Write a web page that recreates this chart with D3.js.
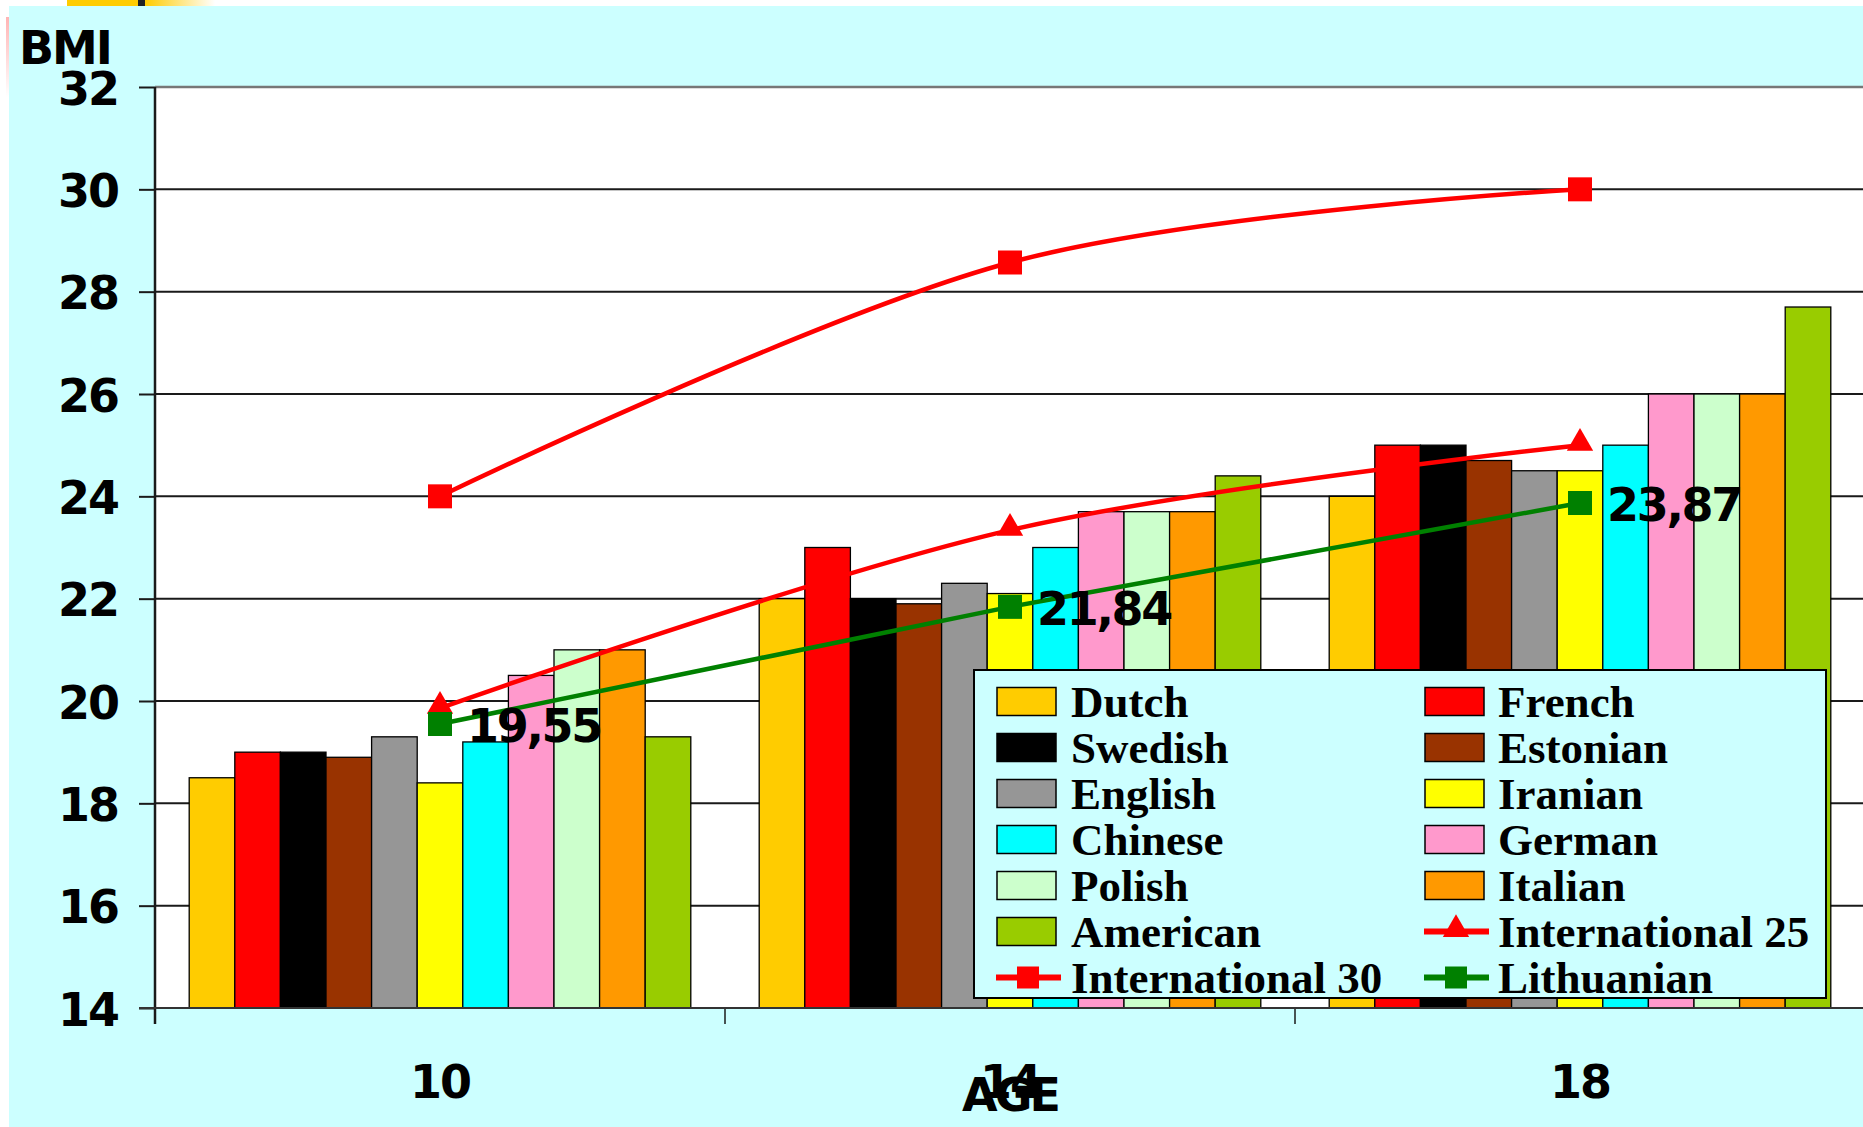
<!DOCTYPE html>
<html>
<head>
<meta charset="utf-8">
<title>BMI by age</title>
<script src="https://cdn.jsdelivr.net/npm/d3@7"></script>
<style>
  html, body { margin: 0; padding: 0; background: #ffffff; }
  svg { display: block; }
  .num { font-family: "DejaVu Sans", Verdana, sans-serif; font-weight: bold; fill: #000; }
  .leg { font-family: "Liberation Serif", "Times New Roman", serif; font-weight: bold; fill: #000; }
</style>
</head>
<body>
<svg id="chart" width="1863" height="1127"></svg>
<script>
// Age groups on the category axis
const ages = ["10", "14", "18"];

// Mean BMI by national reference, one value per age group
const dutch    = [18.5, 22.0, 24.0];
const french   = [19.0, 23.0, 25.0];
const swedish  = [19.0, 22.0, 25.0];
const estonian = [18.9, 21.9, 24.7];
const english  = [19.3, 22.3, 24.5];
const iranian  = [18.4, 22.1, 24.5];
const chinese  = [19.2, 23.0, 25.0];
const german   = [20.5, 23.7, 26.0];
const polish   = [21.0, 23.7, 26.0];
const italian  = [21.0, 23.7, 26.0];
const american = [19.3, 24.4, 27.7];

// Line series
const international25 = [19.86, 23.34, 25.0];
const international30 = [24.0, 28.57, 30.0];
const lithuanian      = [19.55, 21.84, 23.87];

// Axis ticks
const yTicks = [14, 16, 18, 20, 22, 24, 26, 28, 30, 32];

const barNames = ["Dutch", "French", "Swedish", "Estonian", "English", "Iranian",
                  "Chinese", "German", "Polish", "Italian", "American"];
const barValues = [dutch, french, swedish, estonian, english, iranian,
                   chinese, german, polish, italian, american];
const barFill = ["#FFCC00", "#FF0000", "#000000", "#993300", "#969696", "#FFFF00",
                 "#00FFFF", "#FF99CC", "#CCFFCC", "#FF9900", "#99CC00"];

const lineSeries = [
  { name: "International 25", values: international25, color: "#FF0000", marker: "triangle", smooth: true,  labels: false },
  { name: "International 30", values: international30, color: "#FF0000", marker: "square",   smooth: true,  labels: false },
  { name: "Lithuanian",       values: lithuanian,      color: "#008000", marker: "square",   smooth: false, labels: true }
];

const svg = d3.select("#chart");
const W = 1863, H = 1127;

// Slide frame
const defs = svg.append("defs");
const g1 = defs.append("linearGradient").attr("id", "topFade").attr("x1", 0).attr("x2", 1).attr("y1", 0).attr("y2", 0);
g1.append("stop").attr("offset", 0).attr("stop-color", "#FFCC00");
g1.append("stop").attr("offset", 1).attr("stop-color", "#FFFFFF");
const g2 = defs.append("linearGradient").attr("id", "sideFade").attr("x1", 0).attr("x2", 0).attr("y1", 0).attr("y2", 1);
g2.append("stop").attr("offset", 0).attr("stop-color", "#FFB4B4");
g2.append("stop").attr("offset", 1).attr("stop-color", "#FFFFFF");

svg.append("rect").attr("x", 67).attr("y", 0).attr("width", 71).attr("height", 6).attr("fill", "#FFCC00");
svg.append("rect").attr("x", 138).attr("y", 0).attr("width", 7).attr("height", 6).attr("fill", "#222");
svg.append("rect").attr("x", 145).attr("y", 0).attr("width", 70).attr("height", 6).attr("fill", "url(#topFade)");
svg.append("rect").attr("x", 6).attr("y", 17).attr("width", 3).attr("height", 80).attr("fill", "url(#sideFade)");
svg.append("rect").attr("x", 9).attr("y", 6).attr("width", W - 9).attr("height", H - 6).attr("fill", "#CCFFFF");

// Scales
const plotLeft = 155, plotRight = 1865, plotTop = 87, plotBottom = 1008;
const x = d3.scaleBand().domain(ages).range([plotLeft, plotRight]).paddingInner(0).paddingOuter(0);
const xInner = d3.scaleBand().domain(barNames).range([0, x.bandwidth()]).paddingInner(0).paddingOuter(0.75);
const y = d3.scaleLinear().domain([14, 32]).range([plotBottom, plotTop]);

// Plot area
svg.append("rect").attr("x", plotLeft).attr("y", plotTop)
  .attr("width", W - plotLeft).attr("height", plotBottom - plotTop).attr("fill", "#FFFFFF");

// Gridlines
svg.append("g").selectAll("line").data(yTicks.filter(t => t > 14)).join("line")
  .attr("x1", plotLeft).attr("x2", W)
  .attr("y1", d => y(d)).attr("y2", d => y(d))
  .attr("stroke", d => d === 32 ? "#777777" : "#1a1a1a")
  .attr("stroke-width", d => d === 32 ? 2.5 : 2);

// Bars
const barG = svg.append("g");
ages.forEach((age, ai) => {
  barNames.forEach((name, si) => {
    const v = barValues[si][ai];
    barG.append("rect")
      .attr("x", x(age) + xInner(name))
      .attr("y", y(v))
      .attr("width", xInner.bandwidth())
      .attr("height", y(14) - y(v))
      .attr("fill", barFill[si])
      .attr("stroke", "#000")
      .attr("stroke-width", 1.3);
  });
});

// Axes
const yAxis = d3.axisLeft(y).tickValues(yTicks).tickSize(16).tickFormat("");
const yAxisG = svg.append("g").attr("transform", `translate(${plotLeft},0)`).call(yAxis);
yAxisG.select(".domain").remove();
yAxisG.selectAll(".tick line").attr("stroke", "#1a1a1a").attr("stroke-width", 2);
svg.append("line").attr("x1", plotLeft).attr("x2", plotLeft).attr("y1", plotTop).attr("y2", plotBottom + 16)
  .attr("stroke", "#1a1a1a").attr("stroke-width", 2.5);

const xTickPos = ages.map(a => x(a));
svg.append("g").selectAll("line").data(xTickPos).join("line")
  .attr("x1", d => d).attr("x2", d => d).attr("y1", plotBottom).attr("y2", plotBottom + 16)
  .attr("stroke", "#1a1a1a").attr("stroke-width", 1.5);
svg.append("line").attr("x1", plotLeft - 16).attr("x2", W).attr("y1", plotBottom).attr("y2", plotBottom)
  .attr("stroke", "#333").attr("stroke-width", 2);

// Tick labels
svg.append("g").selectAll("text").data(yTicks).join("text")
  .attr("class", "num")
  .attr("x", 118).attr("y", d => y(d) + 17.5)
  .attr("text-anchor", "end")
  .attr("font-size", 46).attr("letter-spacing", -2)
  .text(d => d);

svg.append("g").selectAll("text").data(ages).join("text")
  .attr("class", "num")
  .attr("x", d => x(d) + x.bandwidth() / 2).attr("y", 1098)
  .attr("text-anchor", "middle")
  .attr("font-size", 46).attr("letter-spacing", -2)
  .text(d => d);

svg.append("text").attr("class", "num")
  .attr("x", 1010).attr("y", 1111).attr("text-anchor", "middle")
  .attr("font-size", 46).attr("letter-spacing", -3)
  .text("AGE");

svg.append("text").attr("class", "num")
  .attr("x", 19).attr("y", 64)
  .attr("font-size", 46).attr("letter-spacing", -2)
  .text("BMI");

// Lines and markers
const cx = a => x(a) + x.bandwidth() / 2;
const sym = { square: d3.symbolSquare, triangle: d3.symbolTriangle };
const symSize = { square: 24 * 24, triangle: 300 };
const commaFmt = d3.formatLocale({ decimal: ",", thousands: ".", grouping: [3], currency: ["", ""] }).format(".2f");

lineSeries.forEach(s => {
  const pts = ages.map((a, i) => [cx(a), y(s.values[i])]);
  const line = d3.line().curve(s.smooth ? d3.curveCardinal.tension(0) : d3.curveLinear);
  svg.append("path").attr("d", line(pts))
    .attr("fill", "none").attr("stroke", s.color).attr("stroke-width", 4.5)
    .attr("stroke-linejoin", "round");
  svg.append("g").selectAll("path").data(pts).join("path")
    .attr("transform", d => `translate(${d[0]},${d[1] + (s.marker === "triangle" ? -2 : 0)})`)
    .attr("d", d3.symbol().type(sym[s.marker]).size(symSize[s.marker]))
    .attr("fill", s.color);
  if (s.labels) {
    svg.append("g").selectAll("text").data(ages).join("text")
      .attr("class", "num")
      .attr("x", a => cx(a) + 27)
      .attr("y", (a, i) => y(s.values[i]) + 18)
      .attr("font-size", 46).attr("letter-spacing", -2.3)
      .text((a, i) => commaFmt(s.values[i]));
  }
});

// Legend
const legX = 974, legY = 670, legW = 852, legH = 328;
const leg = svg.append("g");
leg.append("rect").attr("x", legX).attr("y", legY).attr("width", legW).attr("height", legH)
  .attr("fill", "#CCFFFF").attr("stroke", "#000").attr("stroke-width", 2);

const legendItems = barNames.map((n, i) => ({ name: n, kind: "bar", color: barFill[i] }))
  .concat(lineSeries.map(s => ({ name: s.name, kind: "line", color: s.color, marker: s.marker })));

const colSwatch = [997, 1425], colText = [1071, 1498];
legendItems.forEach((it, i) => {
  const col = i % 2, row = Math.floor(i / 2);
  const cy = 701.5 + row * 46;
  if (it.kind === "bar") {
    leg.append("rect").attr("x", colSwatch[col]).attr("y", cy - 14)
      .attr("width", 59).attr("height", 28)
      .attr("fill", it.color).attr("stroke", "#000").attr("stroke-width", 1.5);
  } else {
    leg.append("line").attr("x1", colSwatch[col] - 1).attr("x2", colSwatch[col] + 64)
      .attr("y1", cy).attr("y2", cy)
      .attr("stroke", it.color).attr("stroke-width", 6);
    leg.append("path")
      .attr("transform", `translate(${colSwatch[col] + 31},${cy + (it.marker === "triangle" ? -2 : 0)})`)
      .attr("d", d3.symbol().type(sym[it.marker]).size(it.marker === "square" ? 22 * 22 : 300))
      .attr("fill", it.color);
  }
  leg.append("text").attr("class", "leg")
    .attr("x", colText[col]).attr("y", cy + 15)
    .attr("font-size", 45)
    .text(it.name);
});
</script>
</body>
</html>
